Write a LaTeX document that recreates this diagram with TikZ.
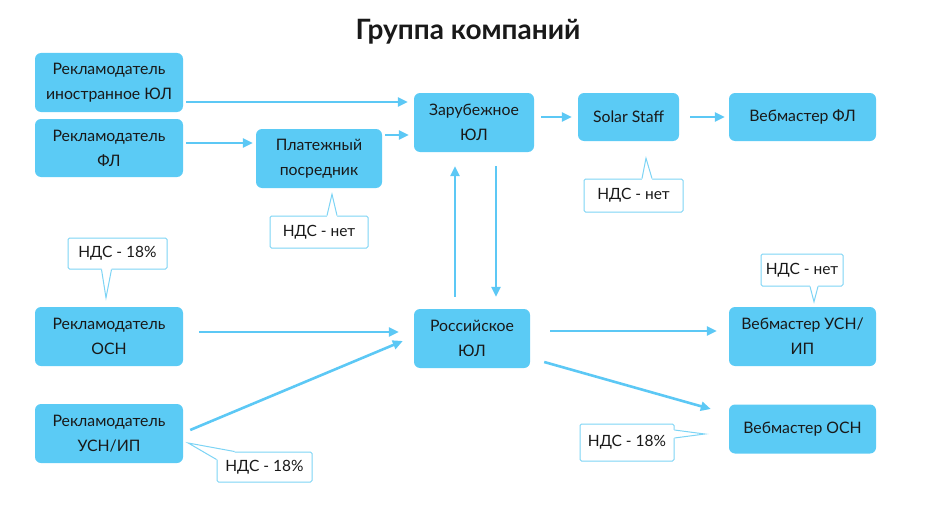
\documentclass[tikz,border=0pt]{standalone}
\usepackage{fontspec}
\setmainfont{Lato}
\usetikzlibrary{arrows.meta}
\definecolor{boxblue}{RGB}{91,203,245}
\definecolor{arrblue}{RGB}{92,200,245}
\definecolor{callblue}{RGB}{125,212,245}
\definecolor{txt}{RGB}{25,25,25}
\tikzset{
  box/.style={rectangle, rounded corners=6pt, fill=boxblue, text=txt, align=center,
    font=\fontsize{15.8}{25}\selectfont, inner sep=0pt},
  arr/.style={draw=arrblue, line width=2.6pt, -{Triangle[length=10pt,width=9pt]}},
  note/.style={rectangle, rounded corners=1.5pt, draw=callblue, line width=1pt, fill=white, text=txt,
    font=\fontsize{15.5}{18}\selectfont, inner sep=0pt},
  ptrline/.style={draw=callblue, line width=1pt, line join=miter},
}
\newcommand\calloutptr[4]{%
  \fill[white] ([shift={#4}]#1) -- (#1) -- (#2) -- (#3) -- ([shift={#4}]#3) -- cycle;
  \draw[ptrline] (#1) -- (#2) -- (#3);}
\begin{document}
\begin{tikzpicture}[x=1pt,y=-1pt]
\useasboundingbox (0,0) rectangle (940,527);
\node[font=\fontsize{28}{32}\selectfont\bfseries, text=txt] (title) at (468,32) {Группа компаний};

\node[box, minimum width=148pt, minimum height=59pt] (b1) at (109,82.5) {Рекламодатель\\иностранное ЮЛ};
\node[box, minimum width=148pt, minimum height=58pt] (b2) at (109,148) {Рекламодатель\\ФЛ};
\node[box, minimum width=126pt, minimum height=59pt] (b3) at (319,158.5) {Платежный\\посредник};
\node[box, minimum width=120pt, minimum height=59pt] (b4) at (474,122.5) {Зарубежное\\ЮЛ};
\node[box, minimum width=101pt, minimum height=48pt] (b5) at (628.5,117) {Solar Staff};
\node[box, minimum width=147pt, minimum height=48pt] (b6) at (802.5,117) {Вебмастер ФЛ};
\node[box, minimum width=148pt, minimum height=59pt] (b7) at (109,336.5) {Рекламодатель\\ОСН};
\node[box, minimum width=148pt, minimum height=59pt] (b8) at (109,433.5) {Рекламодатель\\УСН/ИП};
\node[box, minimum width=116pt, minimum height=59pt] (b9) at (472,338.5) {Российское\\ЮЛ};
\node[box, minimum width=147pt, minimum height=59pt] (b10) at (802.5,336.5) {Вебмастер УСН/\\ИП};
\node[box, minimum width=147pt, minimum height=49pt] (b11) at (802.5,429) {Вебмастер ОСН};

\draw[arr] ([shift={(3,19.5)}]b1.east) -- ([shift={(-6,-20.5)}]b4.west);
\draw[arr] ([shift={(3,-5)}]b2.east) -- ([shift={(-3,-15.5)}]b3.west);
\draw[arr] ([shift={(3,-23.5)}]b3.east) -- ([shift={(-5,12.5)}]b4.west);
\draw[arr] ([shift={(7,-5.5)}]b4.east) -- ([shift={(-6,0)}]b5.west);
\draw[arr] ([shift={(11,0)}]b5.east) -- ([shift={(-4,0)}]b6.west);
\draw[arr] ([shift={(-17,-12)}]b9.north) -- ([shift={(-19,14)}]b4.south);
\draw[arr] ([shift={(22,14)}]b4.south) -- ([shift={(24,-12)}]b9.north);
\draw[arr] ([shift={(16,-4.5)}]b7.east) -- ([shift={(-15,-6.5)}]b9.west);
\draw[arr] ([shift={(7,-3.5)}]b8.east) -- ([shift={(-11,2.5)}]b9.west);
\draw[arr] ([shift={(20,-7.5)}]b9.east) -- ([shift={(-12,-5.5)}]b10.west);
\draw[arr] ([shift={(14,23.5)}]b9.east) -- ([shift={(-18,-20)}]b11.west);

% callouts
\node[note, minimum width=98pt, minimum height=32pt] (na) at (319,232) {НДС - нет};
\coordinate (na1) at ([shift={(8,0)}]na.north);
\coordinate (na2) at ([shift={(18,0)}]na.north);
\coordinate (nat) at ([shift={(13,6)}]b3.south);
\calloutptr{na1}{nat}{na2}{(0,1.5)}

\node[note, minimum width=99pt, minimum height=33pt] (nb) at (633.5,195.5) {НДС - нет};
\coordinate (nb1) at ([shift={(8.5,0)}]nb.north);
\coordinate (nb2) at ([shift={(18.5,0)}]nb.north);
\coordinate (nbt) at ([shift={(17.5,17)}]b5.south);
\calloutptr{nb1}{nbt}{nb2}{(0,1.5)}

\node[note, minimum width=99pt, minimum height=31pt] (nc) at (117.5,253.5) {НДС - 18\%};
\coordinate (nc1) at ([shift={(-16,0)}]nc.south);
\coordinate (nc2) at ([shift={(-6,0)}]nc.south);
\coordinate (nct) at ([shift={(-3,-9)}]b7.north);
\calloutptr{nc1}{nct}{nc2}{(0,-1.5)}

\node[note, minimum width=95pt, minimum height=30pt] (nd) at (264.5,467) {НДС - 18\%};
\coordinate (nd1) at ([shift={(0,8)}]nd.north west);
\coordinate (nd2) at ([shift={(18,0)}]nd.north west);
\coordinate (ndt) at ([shift={(5,9.5)}]b8.east);
\fill[white] (ndt) -- (nd2) -- ([shift={(0,1.5)}]nd2) -- ([shift={(1.5,1.5)}]nd.north west) -- ([shift={(1.5,0)}]nd1) -- (nd1) -- cycle;
\draw[ptrline] (nd1) -- (ndt) -- (nd2);

\node[note, minimum width=82pt, minimum height=32pt] (ne) at (802,270) {НДС - нет};
\coordinate (ne1) at ([shift={(8,0)}]ne.south);
\coordinate (ne2) at ([shift={(16,0)}]ne.south);
\coordinate (net) at ([shift={(11.5,-5)}]b10.north);
\calloutptr{ne1}{net}{ne2}{(0,-1.5)}

\node[note, minimum width=94pt, minimum height=37pt] (nf) at (627,442.5) {НДС - 18\%};
\coordinate (nf1) at ([shift={(0,-12.5)}]nf.east);
\coordinate (nf2) at ([shift={(0,-4.5)}]nf.east);
\coordinate (nft) at ([shift={(-24,5)}]b11.west);
\calloutptr{nf1}{nft}{nf2}{(-1.5,0)}
\end{tikzpicture}
\end{document}
